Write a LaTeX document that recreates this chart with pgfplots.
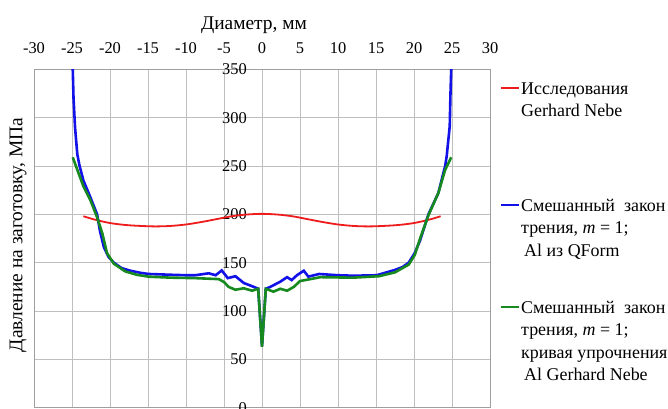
\documentclass[border=0pt]{standalone}
\usepackage{pgfplots}
\pgfplotsset{compat=1.18}
\usepackage{fontspec}
\setmainfont{Liberation Serif}

\definecolor{nebered}{RGB}{238,28,28}
\definecolor{qblue}{RGB}{18,18,232}
\definecolor{qgreen}{RGB}{22,138,30}

% common frame of all axes in the picture
\pgfplotsset{
  frame/.style={scale only axis, width=456bp, height=338.4bp,
    xmin=-30, xmax=30, ymin=0, ymax=350},
  % one legend block to the right of the plot, #1 = distance from the top
  side legend/.style={
    frame, hide axis,
    legend style={
      at={(1,1)}, anchor=north west, xshift=10bp, yshift=-#1,
      draw=none, fill=none, inner sep=0pt, outer sep=0pt,
      row sep=0pt, column sep=1bp,
      font=\fontsize{18}{22.5}\selectfont,
      cells={anchor=north west},
      nodes={inner sep=0pt, outer sep=0pt},
    },
    legend image code/.code={\draw[##1, line width=2.2bp] (0bp,-9.75bp) -- (18bp,-9.75bp);},
  },
}

\begin{document}
\begin{tikzpicture}
\useasboundingbox (-34bp,-1.3bp) rectangle (634bp,407.7bp);
\begin{axis}[
  frame,
  xtick={-30,-25,...,30}, ytick={0,50,...,350},
  xticklabel pos=top,
  grid=major,
  major grid style={draw=gray!50, line width=0.9bp},
  axis line style={draw=gray!75, line width=1bp},
  major tick length=0pt,
  /pgf/number format/assume math mode=true,
  tick label style={font=\fontsize{16.5}{19}\selectfont},
  xticklabel style={anchor=base, inner sep=0pt, yshift=16bp},
  yticklabel style={anchor=east, inner sep=0pt, xshift=213bp},
  xlabel={Диаметр, мм},
  xlabel style={at={(axis description cs:0.5,1)}, anchor=base, inner sep=0pt,
    yshift=40bp, xshift=-8bp, font=\fontsize{19.5}{23}\selectfont},
  ylabel={Давление на заготовку, МПа},
  ylabel style={at={([xshift=-16bp]axis description cs:0,0.51)}, anchor=center,
    inner sep=0pt, font=\fontsize{19.5}{23}\selectfont},
]
% Gerhard Nebe measurements
\addplot[nebered, line width=1.8bp, smooth] coordinates {
  (-23.5,198) (-22,194.5) (-20,191) (-18,189) (-16,188) (-14,187.5)
  (-12,188) (-10,189.5) (-8,192) (-6,195) (-4,198) (-2,199.8) (0,200.5)
  (2,199.8) (4,198) (6,195) (8,192) (10,189.5) (12,188) (14,187.5)
  (16,188) (18,189) (20,191) (22,194.5) (23.5,198)
};

% mixed friction law, QForm material
\addplot[qblue, line width=2.6bp] coordinates {
  (-24.95,375) (-24.9,350) (-24.8,320) (-24.6,290) (-24.3,262) (-24.0,250)
  (-23.5,235) (-22.6,218) (-21.7,200) (-21.3,182) (-20.8,166) (-20.2,156)
  (-19.5,150) (-18.5,144.5) (-17.5,142) (-16,139.5) (-14.9,138.3) (-12,137.5)
  (-10,137) (-8.8,137) (-7,139) (-6.1,137) (-5.3,142) (-4.5,134) (-3.5,136)
  (-2.4,129) (-1.1,125) (-0.5,123) (0,64) (0.5,123) (1.1,125) (2.4,130.3)
  (3.3,135) (3.9,132) (4.6,137) (5.5,141.7) (6.1,135.5) (7.5,138.3)
  (10,137) (12,136.5) (15.1,137) (16.4,140) (17.5,142.5) (18.5,145.5)
  (19.3,150) (20.1,160) (20.8,173) (21.9,200) (23.2,222) (24.1,250)
  (24.3,260) (24.7,291) (24.8,325) (24.9,350) (24.95,375)
};

% mixed friction law, Gerhard Nebe hardening curve
\addplot[qgreen, line width=2.6bp] coordinates {
  (-24.9,259) (-24.3,246) (-23.5,229) (-22.6,215) (-21.7,197) (-21.0,180)
  (-20.4,160) (-19.5,149) (-18,141) (-16.5,137.5) (-14.9,135.5) (-12,134.5)
  (-8.8,134) (-5.7,133) (-5,130) (-4.4,125) (-3.5,122) (-2.4,123.5)
  (-1.3,121) (-0.5,123) (0,63) (0.5,123) (1.5,120) (2.4,123) (3.3,121)
  (4.2,125) (5,131) (5.7,132) (7.7,135) (12,134.5) (15.4,136) (17.5,140)
  (19.3,148) (20.1,158) (20.8,175) (21.9,199) (23.2,222) (24.1,246) (24.9,259)
};
\end{axis}

% legend blocks
\begin{axis}[side legend=9.25bp]
\addlegendimage{nebered}
\addlegendentry{\parbox[t]{160bp}{\strut Исследования\\Gerhard Nebe}}
\end{axis}
\begin{axis}[side legend=126.25bp]
\addlegendimage{qblue}
\addlegendentry{\parbox[t]{160bp}{\strut Смешанный\enspace закон\\трения, \textit{m} = 1;\\\hspace*{3bp}Al из QForm}}
\end{axis}
\begin{axis}[side legend=228.25bp]
\addlegendimage{qgreen}
\addlegendentry{\parbox[t]{160bp}{\strut Смешанный\enspace закон\\трения, \textit{m} = 1;\\кривая упрочнения\\\hspace*{3bp}Al Gerhard Nebe}}
\end{axis}
\end{tikzpicture}
\end{document}
